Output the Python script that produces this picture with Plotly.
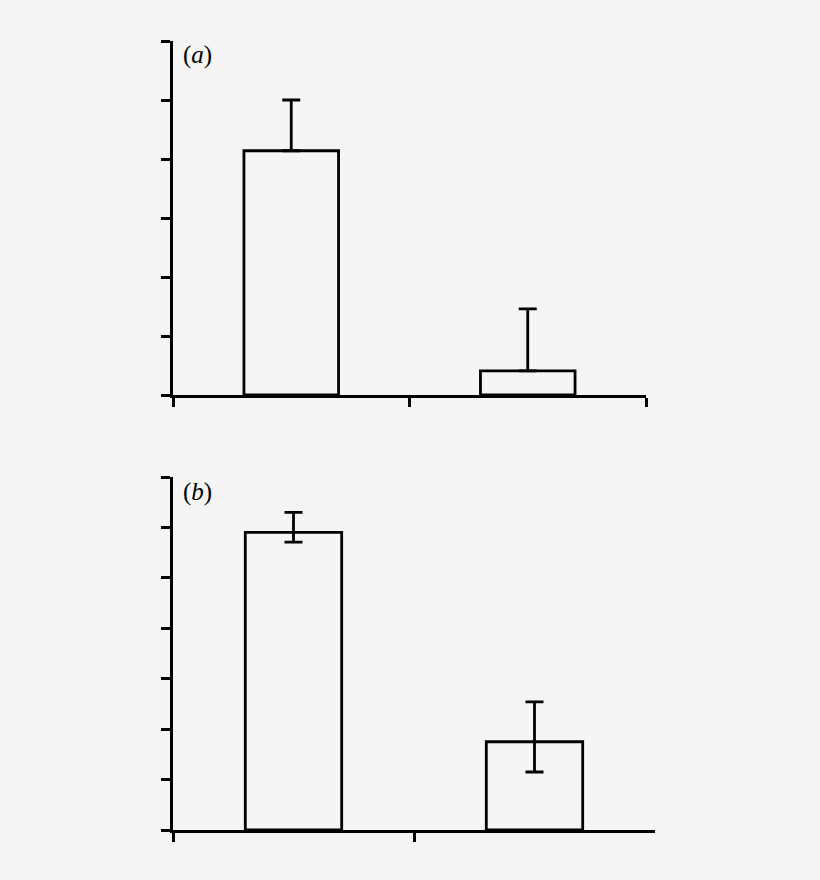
import plotly.graph_objects as go


# DATA ######################################################################################

categories = [0.5, 1.5]

values_a = [4.14, 0.41]
err_up_a = [0.86, 1.05]
err_down_a = [0.0, 0.0]

values_b = [5.90, 1.75]
err_up_b = [0.40, 0.79]
err_down_b = [0.19, 0.60]

xticks_a = [0, 1, 2]
xticks_b = [0, 1]

panel_labels = ['(<i>a</i>)', '(<i>b</i>)']

bg = '#f5f5f5'


# DEFINITIONS ######################################################################################

def make_bar(values, err_up, err_down, xaxis, yaxis):
    bar = go.Bar(x=categories,
                 y=values,
                 width=0.4,
                 marker=dict(color=bg, line=dict(color='black', width=2.8)),
                 error_y=dict(type='data', symmetric=False,
                              array=err_up, arrayminus=err_down,
                              color='black', thickness=2.8, width=9),
                 xaxis=xaxis,
                 yaxis=yaxis,
                 showlegend=False)
    return bar


def axis_style(**kw):
    style = dict(showline=True, linecolor='black', linewidth=2.8,
                 ticks='outside', ticklen=9, tickwidth=2.6, tickcolor='black',
                 showticklabels=False, showgrid=False, zeroline=False,
                 fixedrange=True)
    style.update(kw)
    return style


def main():
    fig = go.Figure()
    fig.add_trace(make_bar(values_a, err_up_a, err_down_a, 'x', 'y'))
    fig.add_trace(make_bar(values_b, err_up_b, err_down_b, 'x2', 'y2'))

    fig.update_layout(
        width=820, height=880,
        margin=dict(l=0, r=0, t=0, b=0),
        paper_bgcolor=bg, plot_bgcolor=bg,
        hovermode=False,
        xaxis=axis_style(domain=[173 / 820, 646 / 820], range=[0, 2],
                         tickmode='array', tickvals=xticks_a, anchor='y'),
        yaxis=axis_style(domain=[1 - 395 / 880, 1 - 41 / 880], range=[0, 6],
                         dtick=1, anchor='x'),
        xaxis2=axis_style(domain=[173 / 820, 655 / 820], range=[0, 2],
                          tickmode='array', tickvals=xticks_b, anchor='y2'),
        yaxis2=axis_style(domain=[1 - 830 / 880, 1 - 477 / 880], range=[0, 7],
                          dtick=1, anchor='x2'),
    )

    for label, ypos in zip(panel_labels, [1 - 55 / 880, 1 - 492 / 880]):
        fig.add_annotation(text=label, x=181 / 820, y=ypos,
                           xref='paper', yref='paper',
                           xanchor='left', yanchor='middle', showarrow=False,
                           font=dict(family='Liberation Serif', size=25, color='black'))

    # page body has a default margin, drop it so the figure sits at 0,0
    fig.write_html('out.html',
                   config={'displayModeBar': False},
                   post_script="document.body.style.margin='0';"
                               "document.body.style.background='" + bg + "';")


main()
